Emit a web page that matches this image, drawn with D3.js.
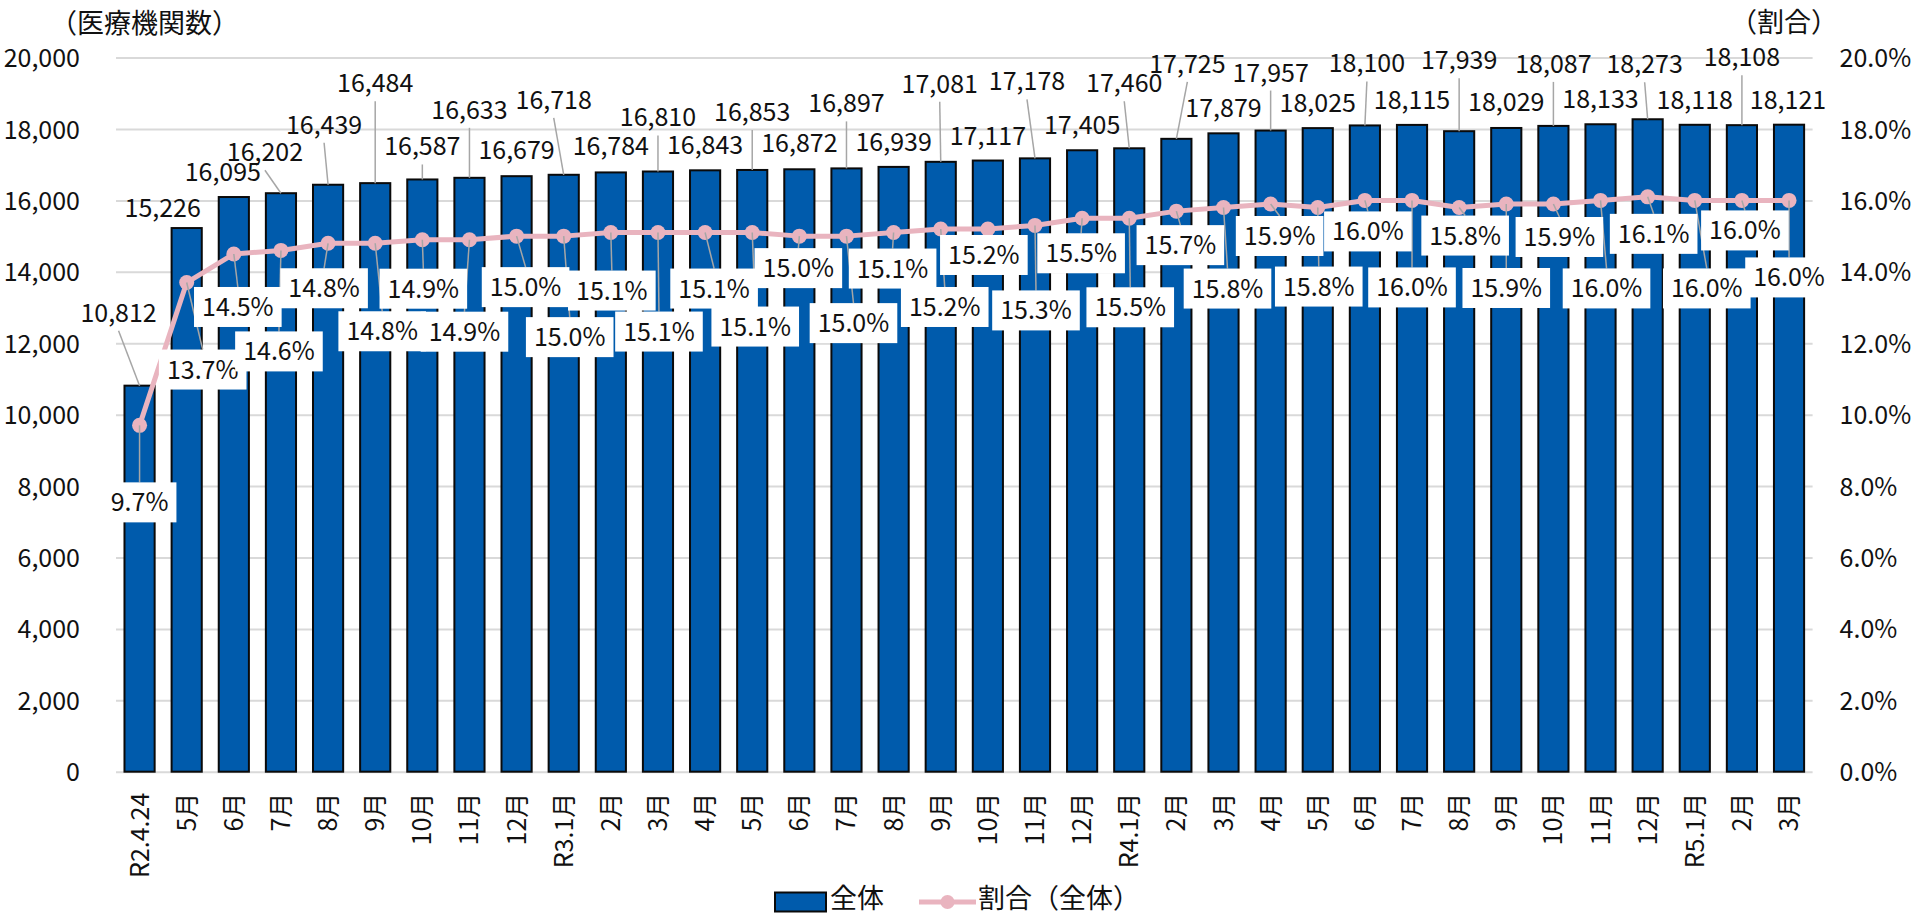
<!DOCTYPE html>
<html>
<head>
<meta charset="utf-8">
<script src="https://cdn.jsdelivr.net/npm/d3@7"></script>
<style>
  html, body { margin: 0; padding: 0; background: #fff; }
  svg { display: block; }
  text { font-family: "Noto Sans CJK JP", "Noto Sans", sans-serif; fill: #111; }
</style>
</head>
<body>
<svg id="chart" width="1915" height="915"></svg>
<script>
// ---- data ---------------------------------------------------------------
const months = ["R2.4.24","5月","6月","7月","8月","9月","10月","11月","12月",
  "R3.1月","2月","3月","4月","5月","6月","7月","8月","9月","10月","11月","12月",
  "R4.1月","2月","3月","4月","5月","6月","7月","8月","9月","10月","11月","12月",
  "R5.1月","2月","3月"];

const institutions = [10812, 15226, 16095, 16202, 16439, 16484, 16587, 16633, 16679,
  16718, 16784, 16810, 16843, 16853, 16872, 16897, 16939, 17081, 17117, 17178, 17405,
  17460, 17725, 17879, 17957, 18025, 18100, 18115, 17939, 18029, 18087, 18133, 18273,
  18118, 18108, 18121];

const sharePct = [9.7, 13.7, 14.5, 14.6, 14.8, 14.8, 14.9, 14.9, 15.0,
  15.0, 15.1, 15.1, 15.1, 15.1, 15.0, 15.0, 15.1, 15.2, 15.2, 15.3, 15.5,
  15.5, 15.7, 15.8, 15.9, 15.8, 16.0, 16.0, 15.8, 15.9, 15.9, 16.0, 16.1,
  16.0, 16.0, 16.0];

const countTicks = [0, 2000, 4000, 6000, 8000, 10000, 12000, 14000, 16000, 18000, 20000];
const shareTicks = [0, 2, 4, 6, 8, 10, 12, 14, 16, 18, 20];

const seriesNames = ["全体", "割合（全体）"];
const leftTitle = "（医療機関数）";
const rightTitle = "（割合）";

// ---- hand-placed data label layout (offset from the labelled point, px) ---
const countLabelOffset = [[-21,-73],[-24,-20],[-11,-25],[-16,-41],[-4,-60],[0,-100],
  [0,-33],[0,-68],[0,-26],[-10,-75],[0,-26],[0,-54],[0,-25],[0,-58],[0,-26],[0,-65],
  [0,-25],[-1,-78],[0,-25],[-8,-77],[0,-25],[-5,-65],[11,-75],[0,-25],[0,-58],
  [0,-25],[2,-62],[0,-25],[0,-71],[0,-26],[0,-62],[0,-25],[-3,-55],[0,-25],
  [0,-68],[-1,-25]];

const shareLabelOffset = [[0,77],[16,87],[4,53],[-2,101],[-4,45],[7,88],[1,49],
  [-5,92],[9,51],[6,101],[1,58],[1,99],[9,56],[3,94],[-1,32],[7,87],[-1,36],[4,78],
  [-4,26],[1,85],[-1,35],[1,89],[4,34],[4,81],[9,32],[1,79],[3,31],[0,87],[6,28],
  [0,84],[6,33],[6,88],[6,37],[12,88],[3,30],[0,77]];

// ---- layout ---------------------------------------------------------------
const plot = { left: 116, right: 1812.6, top: 57.6, bottom: 771.7 };
const BAR_BLUE = "#005BAC";
const PINK = "#E9B4BF";
const GRID = "#D9D9D9";
const LEADER = "#A6A6A6";
const NUM_FONT = 25;
const CJK_FONT = 27;

const svg = d3.select("#chart");

const x = d3.scaleBand()
  .domain(d3.range(months.length))
  .range([plot.left, plot.right])
  .paddingInner(0.36)
  .paddingOuter(0.18);

const y = d3.scaleLinear().domain([0, 20000]).range([plot.bottom, plot.top]);
const yPct = d3.scaleLinear().domain([0, 20]).range([plot.bottom, plot.top]);

const cx = i => x(i) + x.bandwidth() / 2;

// gridlines
const grid = svg.append("g")
  .attr("transform", `translate(${plot.left},0)`)
  .call(d3.axisLeft(y).tickValues(countTicks).tickSize(-(plot.right - plot.left)).tickFormat(""));
grid.select(".domain").remove();
grid.selectAll("line").attr("stroke", GRID).attr("stroke-width", 2);

// left axis
const leftAxis = svg.append("g")
  .attr("transform", `translate(${plot.left},0)`)
  .call(d3.axisLeft(y).tickValues(countTicks).tickSize(0).tickPadding(36)
    .tickFormat(d3.format(",")));
leftAxis.select(".domain").remove();
leftAxis.selectAll("text")
  .attr("font-size", NUM_FONT).attr("font-family", null)
  .attr("dy", "0.36em").attr("fill", "#111");

// right axis
const rightAxis = svg.append("g")
  .attr("transform", `translate(${plot.right},0)`)
  .call(d3.axisRight(yPct).tickValues(shareTicks).tickSize(0).tickPadding(27)
    .tickFormat(d => d.toFixed(1) + "%"));
rightAxis.select(".domain").remove();
rightAxis.selectAll("text")
  .attr("font-size", NUM_FONT).attr("font-family", null)
  .attr("dy", "0.36em").attr("fill", "#111");

// bottom axis with rotated month labels
const bottomAxis = svg.append("g")
  .attr("transform", `translate(0,${plot.bottom})`)
  .call(d3.axisBottom(x).tickSize(0).tickFormat(i => months[i]));
bottomAxis.select(".domain").remove();
bottomAxis.selectAll("text")
  .attr("font-size", NUM_FONT).attr("font-family", null).attr("fill", "#111")
  .attr("text-anchor", "end")
  .attr("y", 0).attr("x", -21)
  .attr("dy", "0.36em")
  .attr("transform", "rotate(-90)");

// bars
svg.append("g").selectAll("rect")
  .data(institutions)
  .join("rect")
  .attr("x", (d, i) => x(i))
  .attr("y", d => y(d))
  .attr("width", x.bandwidth())
  .attr("height", d => plot.bottom - y(d))
  .attr("fill", BAR_BLUE)
  .attr("stroke", "#0a0a0a")
  .attr("stroke-width", 2);

// count labels with leader lines
const countLabels = svg.append("g");
institutions.forEach((v, i) => {
  const [dx, dy] = countLabelOffset[i];
  const lx = cx(i) + dx, ly = y(v) + dy;
  if (dy < -30) {
    countLabels.append("line")
      .attr("x1", lx).attr("y1", ly + 18)
      .attr("x2", cx(i)).attr("y2", y(v))
      .attr("stroke", LEADER).attr("stroke-width", 1.5);
  }
  countLabels.append("text")
    .attr("x", lx).attr("y", ly).attr("dy", "0.36em")
    .attr("text-anchor", "middle")
    .attr("font-size", NUM_FONT)
    .text(d3.format(",")(v));
});

// share line and markers
const line = d3.line().x((d, i) => cx(i)).y(d => yPct(d));
svg.append("path")
  .datum(sharePct)
  .attr("d", line)
  .attr("fill", "none")
  .attr("stroke", PINK)
  .attr("stroke-width", 5)
  .attr("stroke-linejoin", "round");
svg.append("g").selectAll("circle")
  .data(sharePct)
  .join("circle")
  .attr("cx", (d, i) => cx(i))
  .attr("cy", d => yPct(d))
  .attr("r", 7.5)
  .attr("fill", PINK);

// share labels: leader lines, white boxes, text
const shareLabels = svg.append("g");
sharePct.forEach((v, i) => {
  const [dx, dy] = shareLabelOffset[i];
  const mx = cx(i), my = yPct(v);
  const lx = mx + dx, ly = my + dy;
  if (ly - 20 - my > 6) {
    shareLabels.append("line")
      .attr("x1", mx).attr("y1", my)
      .attr("x2", lx).attr("y2", ly - 20)
      .attr("stroke", LEADER).attr("stroke-width", 1.5);
  }
});
sharePct.forEach((v, i) => {
  const [dx, dy] = shareLabelOffset[i];
  const lx = cx(i) + dx, ly = yPct(v) + dy;
  const g = shareLabels.append("g");
  const box = g.append("rect").attr("fill", "#fff");
  const t = g.append("text")
    .attr("x", lx).attr("y", ly).attr("dy", "0.36em")
    .attr("text-anchor", "middle")
    .attr("font-size", NUM_FONT)
    .text(v.toFixed(1) + "%");
  const w = t.node().getComputedTextLength() + 16;
  box.attr("x", lx - w / 2).attr("y", ly - 20).attr("width", w).attr("height", 40);
});

// axis titles
svg.append("text").attr("x", 50).attr("y", 23).attr("dy", "0.36em")
  .attr("font-size", CJK_FONT).text(leftTitle);
svg.append("text").attr("x", 1730).attr("y", 22).attr("dy", "0.36em")
  .attr("font-size", CJK_FONT).text(rightTitle);

// legend
const legend = svg.append("g");
legend.append("rect")
  .attr("x", 775).attr("y", 892.5).attr("width", 51).attr("height", 19)
  .attr("fill", BAR_BLUE).attr("stroke", "#0a0a0a").attr("stroke-width", 2);
legend.append("text").attr("x", 830).attr("y", 899).attr("dy", "0.34em")
  .attr("font-size", CJK_FONT).text(seriesNames[0]);
legend.append("line")
  .attr("x1", 919).attr("x2", 976).attr("y1", 902).attr("y2", 902)
  .attr("stroke", PINK).attr("stroke-width", 5);
legend.append("circle").attr("cx", 947.5).attr("cy", 902).attr("r", 7).attr("fill", PINK);
legend.append("text").attr("x", 978).attr("y", 899).attr("dy", "0.34em")
  .attr("font-size", CJK_FONT).text(seriesNames[1]);
</script>
</body>
</html>
